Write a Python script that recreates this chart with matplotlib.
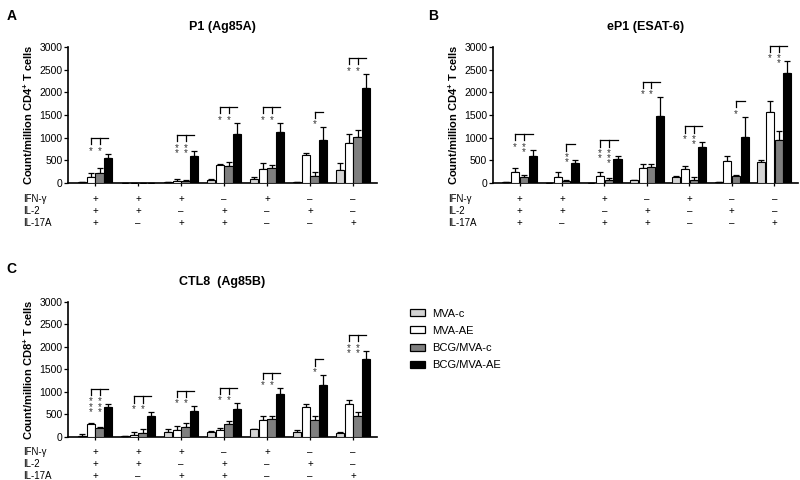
import matplotlib
matplotlib.use("Agg")
import matplotlib.pyplot as plt
import matplotlib.transforms as mtransforms
from matplotlib.patches import Patch
import numpy as np

plt.rcParams['font.family'] = ['Liberation Sans', 'DejaVu Sans']
plt.rcParams['mathtext.default'] = 'regular'

series = ['MVA-c', 'MVA-AE', 'BCG/MVA-c', 'BCG/MVA-AE']
colors = ['#d4d4d4', '#ffffff', '#7f7f7f', '#000000']

ifng = ['+', '+', '+', '–', '+', '–', '–']
il2 = ['+', '+', '–', '+', '–', '+', '–']
il17 = ['+', '–', '+', '+', '–', '–', '+']

# mean values per group, one row per series
p1_mean = [[10, 5, 30, 60, 82, 15, 275],
           [134, 5, 45, 400, 297, 616, 877],
           [208, 5, 45, 365, 327, 156, 1003],
           [557, 5, 587, 1090, 1120, 950, 2095]]
p1_err = [[0, 0, 0, 30, 38, 0, 163],
          [81, 0, 50, 20, 133, 52, 200],
          [112, 0, 15, 90, 59, 89, 157],
          [83, 0, 119, 240, 210, 276, 320]]
# significance: (bar index of leg, stars) per group
p1_stars = [[(1, '*'), (2, '*')], [], [(1, '**'), (2, '**')],
            [(1, '*'), (2, '*')], [(1, '*'), (2, '*')], [(2, '*')],
            [(1, '*'), (2, '*')]]

ep1_mean = [[20, 5, 5, 60, 119, 30, 468],
            [237, 133, 156, 327, 305, 483, 1568],
            [140, 37, 67, 357, 67, 156, 951],
            [600, 438, 527, 1471, 788, 1003, 2422]]
ep1_err = [[0, 0, 0, 0, 30, 0, 45],
           [90, 112, 74, 81, 74, 104, 237],
           [23, 30, 30, 59, 52, 15, 201],
           [135, 60, 60, 416, 112, 453, 260]]
ep1_stars = [[(1, '*'), (2, '**')], [(2, '**')], [(1, '**'), (2, '***')],
             [(1, '*'), (2, '*')], [(1, '*'), (2, '**')], [(2, '*')],
             [(1, '*'), (2, '**')]]

ctl8_mean = [[22, 22, 104, 104, 163, 104, 82],
             [282, 45, 156, 141, 364, 669, 728],
             [186, 82, 208, 290, 394, 379, 468],
             [661, 453, 580, 624, 944, 1159, 1739]]
ctl8_err = [[38, 0, 67, 30, 15, 45, 15],
            [15, 59, 74, 45, 104, 66, 82],
            [37, 89, 97, 59, 59, 74, 89],
            [59, 97, 96, 119, 133, 216, 178]]
ctl8_stars = [[(1, '***'), (2, '***')], [(1, '*'), (2, '*')], [(1, '*'), (2, '*')],
              [(1, '*'), (2, '*')], [(1, '*'), (2, '*')], [(2, '*')],
              [(1, '**'), (2, '**')]]

fig = plt.figure(figsize=(8, 4.8), dpi=100)

width = 0.19
step = 0.205
offsets = (np.arange(4) - 1.5) * step


def draw_panel(ax, means, errs, stars, title, ylabel, row_y):
    x = np.arange(7)
    for i in range(4):
        m = np.array(means[i])
        e = np.array(errs[i])
        ax.bar(x + offsets[i], m, width, color=colors[i], edgecolor='black',
               linewidth=0.8, zorder=3)
        ax.errorbar(x + offsets[i], m, yerr=[np.zeros_like(e), e], fmt='none',
                    ecolor='black', elinewidth=0.9, capsize=2.2, capthick=0.9, zorder=2)

    # significance brackets
    for g in range(7):
        if not stars[g]:
            continue
        top = means[3][g] + errs[3][g] + 350
        legs = [s[0] for s in stars[g]]
        x0 = g + offsets[min(legs)]
        x1 = g + offsets[3]
        ax.plot([x0, x1], [top, top], color='black', lw=0.9, clip_on=False)
        for b, s in stars[g]:
            xb = g + offsets[b]
            ax.plot([xb, xb], [top, top - 140], color='black', lw=0.9, clip_on=False)
            ax.text(xb, top - 175, '\n'.join(s), ha='center', va='top',
                    fontsize=7, color='#333333', linespacing=0.38)

    ax.set_xlim(-0.63, 6.55)
    ax.set_ylim(0, 3000)
    ax.set_yticks(np.arange(0, 3001, 500))
    ax.set_xticks(x)
    ax.set_xticklabels([])
    ax.tick_params(axis='y', labelsize=7.5, length=3, width=0.9, pad=1)
    ax.tick_params(axis='x', length=2.5, width=0.9)
    for sp in ['top', 'right']:
        ax.spines[sp].set_visible(False)
    for sp in ['left', 'bottom']:
        ax.spines[sp].set_linewidth(1.2)
    ax.set_title(title, fontsize=9, fontweight='bold', pad=12)
    ax.set_ylabel(ylabel, fontsize=8, fontweight='bold', labelpad=3)

    # rows of +/- under the axis
    trans = mtransforms.blended_transform_factory(ax.transData, fig.transFigure)
    label_x = ax.get_position().x0 - 0.056
    for names, y, rowname in [(ifng, row_y[0], 'IFN-γ'), (il2, row_y[1], 'IL-2'),
                              (il17, row_y[2], 'IL-17A')]:
        fig.text(label_x, y, rowname, fontsize=7, ha='left', va='center')
        for g in range(7):
            ax.text(g, y, names[g], transform=trans, fontsize=7, ha='center', va='center')


axA = fig.add_axes([0.085, 0.619, 0.386, 0.283])
axB = fig.add_axes([0.616, 0.619, 0.381, 0.283])
axC = fig.add_axes([0.085, 0.090, 0.386, 0.281])

draw_panel(axA, p1_mean, p1_err, p1_stars, 'P1 (Ag85A)',
           'Count/million CD4$^{+}$ T cells', [0.585, 0.560, 0.535])
draw_panel(axB, ep1_mean, ep1_err, ep1_stars, 'eP1 (ESAT-6)',
           'Count/million CD4$^{+}$ T cells', [0.585, 0.560, 0.535])
draw_panel(axC, ctl8_mean, ctl8_err, ctl8_stars, 'CTL8  (Ag85B)',
           'Count/million CD8$^{+}$ T cells', [0.058, 0.033, 0.009])

fig.text(0.008, 0.982, 'A', fontsize=10, fontweight='bold', va='top')
fig.text(0.535, 0.982, 'B', fontsize=10, fontweight='bold', va='top')
fig.text(0.008, 0.455, 'C', fontsize=10, fontweight='bold', va='top')

handles = [Patch(facecolor=c, edgecolor='black', linewidth=0.9) for c in colors]
fig.legend(handles, series, loc='center left', bbox_to_anchor=(0.505, 0.293),
           frameon=False, fontsize=8, handlelength=1.35, handleheight=0.6,
           labelspacing=0.65, handletextpad=0.7, borderpad=0)

fig.savefig('out.png', dpi=100)
